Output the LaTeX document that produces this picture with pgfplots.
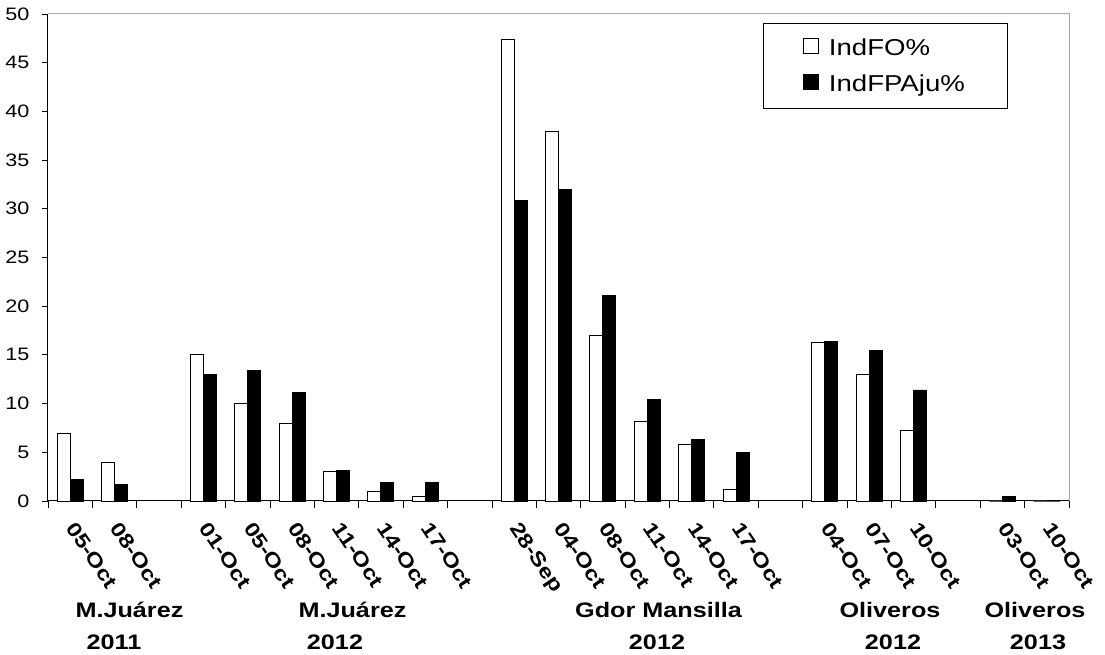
\documentclass[border=0pt]{standalone}
\usepackage{fontspec}
\setmainfont[FakeStretch=1.2]{Liberation Sans}
\usepackage{pgfplots}
\pgfplotsset{compat=1.18}
\usepackage{pgfplotstable}

% IndFO% (white) and IndFPAju% (black), one row per sampling date
% x = slot along the axis, empty slots separate the sites
\pgfplotstableread{
x  fo    fpaju
0  6.9   2.2
1  4.0   1.7
3  15.0  13.0
4  10.0  13.4
5  8.0   11.1
6  3.0   3.1
7  1.0   1.9
8  0.5   1.9
10 47.4  30.9
11 37.9  32.0
12 17.0  21.1
13 8.2   10.4
14 5.8   6.3
15 1.2   5.0
17 16.3  16.4
18 13.0  15.5
19 7.2   11.4
21 0     0.5
22 0     0
}\datatable

\begin{document}
\begin{tikzpicture}
\path[use as bounding box] (0,0) rectangle (1105pt,655pt);
\begin{axis}[
    at={(48pt,154pt)}, anchor=south west,
    scale only axis, width=1021pt, height=487pt,
    xmin=-0.5, xmax=22.5,
    ymin=0, ymax=50,
    ytick={0,5,...,50},
    xtick={0,1,3,4,5,6,7,8,10,11,12,13,14,15,17,18,19,21,22},
    xticklabels={05-Oct,08-Oct,01-Oct,05-Oct,08-Oct,11-Oct,14-Oct,17-Oct,
                 28-Sep,04-Oct,08-Oct,11-Oct,14-Oct,17-Oct,
                 04-Oct,07-Oct,10-Oct,03-Oct,10-Oct},
    minor xtick={-0.5,0.5,...,22.5},
    major x tick style={draw=none},
    tick align=outside,
    major tick length=6pt,
    minor tick length=7pt,
    tick style={black, line width=0.8pt},
    axis x line*=bottom, axis y line*=left,
    axis line style={black, line width=1pt},
    /pgf/number format/assume math mode=true,
    yticklabel style={font=\fontsize{18}{20}\selectfont, xshift=-9pt},
    xticklabel style={font=\fontsize{20}{22}\selectfont\bfseries,
        inner sep=0pt, anchor=north west, xshift=7pt, yshift=-13pt, rotate=-56},
    ybar=0pt, bar width=13pt,
    legend style={at={(0.700,0.9815)}, anchor=north west,
        draw=black, line width=0.8pt,
        font=\fontsize{23}{26}\selectfont,
        inner xsep=40pt, inner ysep=13.5pt,
        /tikz/every odd column/.append style={column sep=8pt},
        row sep=14pt},
    legend cell align=left,
    legend image code/.code={\draw[#1, line width=0.8pt] (0pt,-5pt) rectangle (15pt,10pt);},
    clip=false,
]
\addplot[draw=black, fill=white, line width=0.9pt] table[x=x, y=fo] {\datatable};
\addlegendentry{IndFO\%}
\addplot[draw=black, fill=black, line width=0.9pt] table[x=x, y=fpaju] {\datatable};
\addlegendentry{IndFPAju\%}
\draw[gray!70, line width=1pt] (rel axis cs:0,1) -- (rel axis cs:1,1) -- (rel axis cs:1,0);
\end{axis}
\begin{scope}[font=\fontsize{21}{24}\selectfont\bfseries]
\node[anchor=base] at (129.5pt,37pt) {M.Juárez};
\node[anchor=base] at (114pt,5pt) {2011};
\node[anchor=base] at (352.5pt,37pt) {M.Juárez};
\node[anchor=base] at (335pt,5pt) {2012};
\node[anchor=base] at (658.5pt,37pt) {Gdor Mansilla};
\node[anchor=base] at (657pt,5pt) {2012};
\node[anchor=base] at (890pt,37pt) {Oliveros};
\node[anchor=base] at (893pt,5pt) {2012};
\node[anchor=base] at (1035pt,37pt) {Oliveros};
\node[anchor=base] at (1038pt,5pt) {2013};
\end{scope}
\end{tikzpicture}
\end{document}
